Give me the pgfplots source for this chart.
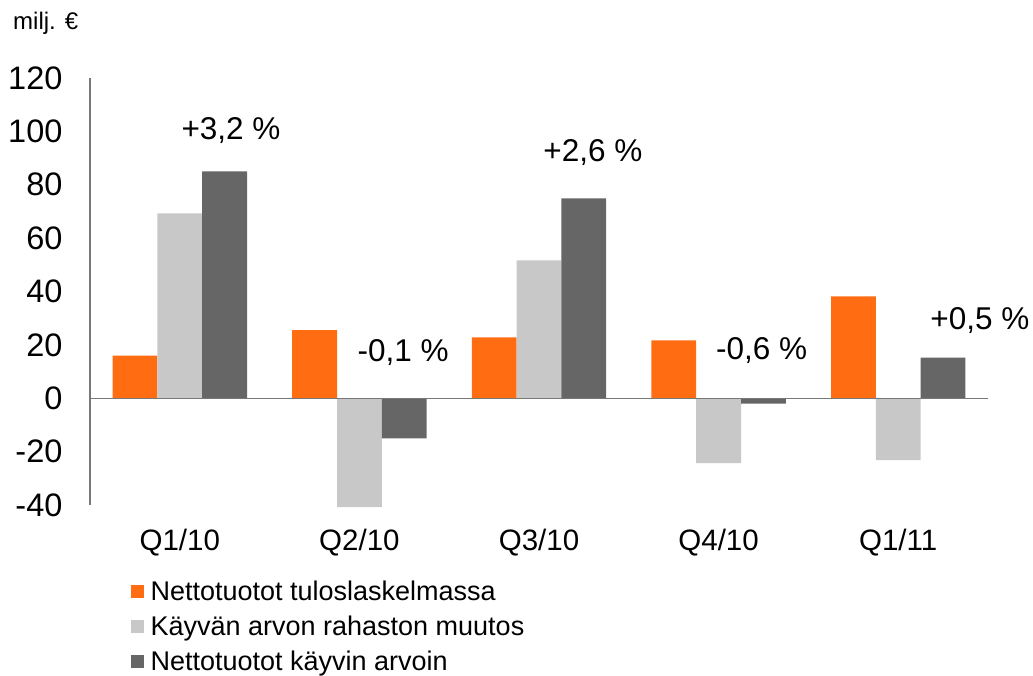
\documentclass[border=0pt]{standalone}
\usepackage{fontspec}
\setmainfont{Liberation Sans}
\usepackage{pgfplots}
\pgfplotsset{compat=1.18}
\definecolor{cOr}{RGB}{255,108,18}
\definecolor{cLg}{RGB}{200,200,200}
\definecolor{cDg}{RGB}{102,102,102}
\definecolor{cAx}{RGB}{120,120,120}
\begin{document}
\begin{tikzpicture}[x=1pt,y=1pt]
\useasboundingbox (0,0) rectangle (1033,676);
\begin{axis}[
  at={(90pt,171pt)}, anchor=south west,
  scale only axis, width=898pt, height=427pt,
  ybar=0pt, bar width=44.8pt,
  xmin=-0.5, xmax=4.5, ymin=-40, ymax=120,
  ytick={-40,-20,...,120},
  xtick={0,1,2,3,4},
  xticklabels={Q1/10,Q2/10,Q3/10,Q4/10,Q1/11},
  axis y line*=left, axis x line*=bottom,
  x axis line style={draw=none},
  y axis line style={draw=cAx, line width=1.2pt},
  tick style={draw=none},
  /pgf/number format/assume math mode=true,
  yticklabel style={font=\fontsize{32.5}{38}\selectfont, xshift=-24pt},
  xticklabel style={font=\fontsize{29.5}{34}\selectfont, yshift=-16pt},
  clip=false,
  legend style={at={(axis description cs:0.045,-0.172)}, anchor=north west, draw=none, fill=none,
    font=\fontsize{27}{32}\selectfont, row sep=10pt, cells={anchor=west}, inner sep=0pt},
  legend image code/.code={\fill[#1] (0pt,-6.5pt) rectangle (13.5pt,6.5pt); \path (18pt,0pt);},
  every axis plot/.append style={draw=none},
]
\addplot[fill=cOr] coordinates {(0,16) (1,25.5) (2,22.8) (3,21.7) (4,38.2)};
\addplot[fill=cLg] coordinates {(0,69.3) (1,-40.8) (2,51.7) (3,-24.3) (4,-23.2)};
\addplot[fill=cDg] coordinates {(0,85) (1,-15) (2,74.9) (3,-2) (4,15.2)};
\legend{Nettotuotot tuloslaskelmassa, Käyvän arvon rahaston muutos, Nettotuotot käyvin arvoin}
\draw[cAx, line width=1.2pt] (axis cs:-0.5,0) -- (axis cs:4.5,0);
\begin{scope}[every node/.style={font=\fontsize{31.5}{36}\selectfont}]
\node at (axis cs:0.285,100.4) {+3,2 \%};
\node at (axis cs:1.243,17.2) {-0,1 \%};
\node at (axis cs:2.30,92.1) {+2,6 \%};
\node at (axis cs:3.24,18) {-0,6 \%};
\node at (axis cs:4.455,29.2) {+0,5 \%};
\end{scope}
\node[anchor=west, font=\fontsize{24}{28}\selectfont, inner sep=0pt] at (axis description cs:-0.0857,1.128) {milj. €};
\end{axis}
\end{tikzpicture}
\end{document}
